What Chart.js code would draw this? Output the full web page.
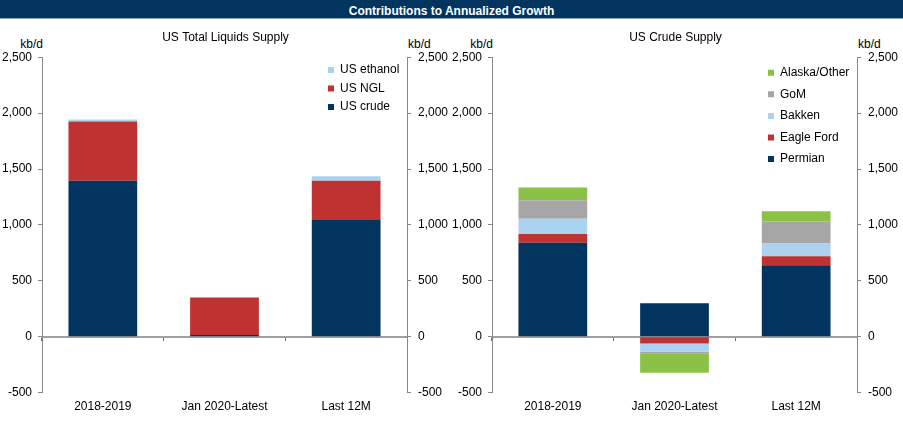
<!DOCTYPE html>
<html>
<head>
<meta charset="utf-8">
<script src="https://cdn.jsdelivr.net/npm/chart.js@4/dist/chart.umd.min.js"></script>
<style>
html,body{margin:0;padding:0;background:#fff;}
body{width:903px;height:427px;position:relative;overflow:hidden;font-family:'Liberation Sans',Arial,sans-serif;}
#hdr{position:absolute;left:0;top:0;width:903px;height:18px;background:#01355F;color:#fff;font-weight:bold;font-size:12px;text-align:center;line-height:23px;overflow:hidden;border-bottom:1px solid #8fa6ba;}
.box{position:absolute;top:20px;width:451px;height:407px;}
.unit{position:absolute;top:37px;font-size:12px;line-height:14px;color:#000;}
</style>
</head>
<body>
<div id="hdr">Contributions to Annualized Growth</div>
<div class="unit" style="left:0;width:43px;text-align:right;">kb/d</div>
<div class="unit" style="left:408px;">kb/d</div>
<div class="unit" style="left:450px;width:43px;text-align:right;">kb/d</div>
<div class="unit" style="left:858px;">kb/d</div>
<div class="box" style="left:0;"><canvas id="c1" width="451" height="407"></canvas></div>
<div class="box" style="left:450px;"><canvas id="c2" width="451" height="407"></canvas></div>
<script>
// ---- data ----
const categories = ['2018-2019', 'Jan 2020-Latest', 'Last 12M'];
const yTickValues = [-500, 0, 500, 1000, 1500, 2000, 2500];

// US Total Liquids Supply (kb/d)
const liqCrude   = [1395, 15, 1045];
const liqNGL     = [531, 335, 350];
const liqEthanol = [18, 0, 40];

// US Crude Supply (kb/d)
const permian   = [840, 300, 640];
const eagleFord = [80, -60, 81];
const bakken    = [135, -75, 114];
const gom       = [165, -18, 196];
const alaska    = [115, -170, 92];

const FONT = "'Liberation Sans', Arial, sans-serif";
const C_NAVY = '#01355F', C_RED = '#BE3232', C_LBLUE = '#ABD3F0', C_GRAY = '#A6A6A6', C_GREEN = '#8CC148';
const AXIS = '#888888';

Chart.defaults.font.family = FONT;
Chart.defaults.font.size = 12;
Chart.defaults.color = '#000';

const fmt = v => Number(v).toLocaleString('en-US');

// place the legend inside the plot area (top right) and draw it above the bars
const legendPlacer = {
  id: 'legendPlacer',
  beforeLayout(chart) {
    const lg = chart.legend;
    if (!lg) return;
    lg._layers = function () {
      return [{ z: 1, draw: (ca) => lg.draw(ca) }];
    };
  },
  afterLayout(chart, args, opts) {
    const lg = chart.legend;
    if (!lg) return;
    const pad = lg.options.labels.padding;
    lg.left = opts.boxX - pad;
    lg.right = lg.left + lg.width;
    lg.top = opts.firstCenter - 6 - pad;
    lg.bottom = lg.top + lg.height;
  }
};

function makeChart(id, title, datasets, legendOpts) {
  return new Chart(document.getElementById(id), {
    type: 'bar',
    data: { labels: categories, datasets: datasets },
    options: {
      responsive: false,
      animation: false,
      events: [],
      layout: { padding: { top: 0, bottom: 6, left: 0, right: 0 } },
      datasets: { bar: { barPercentage: 0.565, categoryPercentage: 1, borderWidth: 0 } },
      scales: {
        x: {
          stacked: true,
          grid: { display: false, drawTicks: false },
          border: { display: false },
          ticks: { padding: 7, maxRotation: 0, autoSkip: false, color: '#000', font: { size: 12 } }
        },
        x2: {
          type: 'category',
          position: { y: 0 },
          grid: { offset: true, drawOnChartArea: false, drawTicks: true, tickLength: 3, color: '#6f6f6f', lineWidth: 1 },
          border: { display: true, color: '#A0A0A0', width: 2 },
          ticks: { display: false }
        },
        y: {
          stacked: true,
          position: 'left',
          min: yTickValues[0], max: yTickValues[yTickValues.length - 1],
          afterBuildTicks: s => { s.ticks = yTickValues.map(v => ({ value: v })); },
          afterFit: s => { s.width = 42; },
          grid: { drawOnChartArea: false, drawTicks: true, tickLength: 4, color: AXIS },
          border: { display: true, color: AXIS, width: 1 },
          ticks: { padding: 6, color: '#000', font: { size: 12 }, callback: v => fmt(v) }
        },
        y2: {
          position: 'right',
          min: yTickValues[0], max: yTickValues[yTickValues.length - 1],
          afterBuildTicks: s => { s.ticks = yTickValues.map(v => ({ value: v })); },
          afterFit: s => { s.width = 44; },
          grid: { drawOnChartArea: false, drawTicks: true, tickLength: 4, color: AXIS },
          border: { display: true, color: AXIS, width: 1 },
          ticks: { padding: 7, color: '#000', font: { size: 12 }, callback: v => fmt(v) }
        }
      },
      plugins: {
        title: {
          display: true, text: title, color: '#000',
          font: { size: 12, weight: 'normal' },
          padding: { top: 10.5, bottom: 12.4 }
        },
        legend: {
          display: true,
          position: 'chartArea',
          align: 'start',
          reverse: true,
          labels: { boxWidth: 6, boxHeight: 6, padding: legendOpts.pad, color: '#000', font: { size: 12 } }
        },
        tooltip: { enabled: false },
        legendPlacer: { boxX: legendOpts.boxX, firstCenter: legendOpts.firstCenter }
      }
    },
    plugins: [legendPlacer]
  });
}

makeChart('c1', 'US Total Liquids Supply', [
  { label: 'US crude',   data: liqCrude,   backgroundColor: C_NAVY },
  { label: 'US NGL',     data: liqNGL,     backgroundColor: C_RED },
  { label: 'US ethanol', data: liqEthanol, backgroundColor: C_LBLUE }
], { pad: 6.5, boxX: 328, firstCenter: 50 });

makeChart('c2', 'US Crude Supply', [
  { label: 'Permian',      data: permian,   backgroundColor: C_NAVY },
  { label: 'Eagle Ford',   data: eagleFord, backgroundColor: C_RED },
  { label: 'Bakken',       data: bakken,    backgroundColor: C_LBLUE },
  { label: 'GoM',          data: gom,       backgroundColor: C_GRAY },
  { label: 'Alaska/Other', data: alaska,    backgroundColor: C_GREEN }
], { pad: 9.6, boxX: 318, firstCenter: 52.7 });
</script>
</body>
</html>
